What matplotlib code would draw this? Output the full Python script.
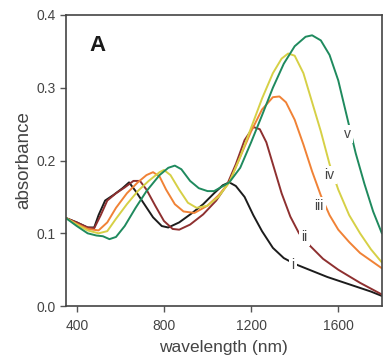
import matplotlib
matplotlib.use("Agg")
import matplotlib.pyplot as plt

plt.rcParams['font.family'] = ['Liberation Sans', 'DejaVu Sans']

# wavelength (nm) / absorbance
wl_i = [350, 400, 450, 480, 500, 530, 570, 610, 640, 670, 710, 750, 790, 820, 870, 930, 980,
        1030, 1070, 1100, 1130, 1170, 1210, 1250, 1300, 1350, 1400, 1450, 1550, 1650, 1750, 1800]
ab_i = [0.121, 0.115, 0.108, 0.108, 0.125, 0.145, 0.153, 0.162, 0.170, 0.158, 0.140, 0.122, 0.110,
        0.108, 0.115, 0.128, 0.140, 0.155, 0.166, 0.170, 0.165, 0.150, 0.125, 0.103, 0.080, 0.066,
        0.058, 0.052, 0.040, 0.030, 0.020, 0.014]

wl_ii = [350, 400, 450, 480, 510, 540, 580, 620, 660, 690, 720, 760, 800, 840, 870, 920, 980,
         1040, 1090, 1130, 1170, 1210, 1240, 1270, 1300, 1340, 1380, 1420, 1470, 1530, 1600, 1700, 1800]
ab_ii = [0.121, 0.115, 0.108, 0.107, 0.125, 0.145, 0.155, 0.163, 0.172, 0.172, 0.160, 0.138, 0.117,
         0.106, 0.105, 0.112, 0.126, 0.145, 0.167, 0.195, 0.228, 0.246, 0.243, 0.225, 0.195, 0.155,
         0.123, 0.100, 0.083, 0.065, 0.050, 0.032, 0.016]

wl_iii = [350, 400, 450, 500, 540, 580, 630, 680, 720, 750, 780, 810, 850, 890, 940, 1000, 1050,
          1100, 1150, 1200, 1250, 1300, 1330, 1360, 1400, 1440, 1480, 1520, 1560, 1600, 1650, 1700, 1800]
ab_iii = [0.121, 0.113, 0.106, 0.104, 0.115, 0.135, 0.155, 0.170, 0.180, 0.184, 0.178, 0.160, 0.140,
          0.130, 0.128, 0.138, 0.152, 0.170, 0.205, 0.240, 0.270, 0.287, 0.288, 0.280, 0.256, 0.222,
          0.185, 0.152, 0.125, 0.105, 0.088, 0.073, 0.052]

wl_iv = [350, 400, 450, 500, 540, 580, 630, 680, 730, 780, 800, 830, 870, 910, 950, 1000, 1050,
         1100, 1150, 1200, 1250, 1300, 1340, 1370, 1400, 1440, 1480, 1520, 1560, 1600, 1650, 1700, 1750, 1800]
ab_iv = [0.121, 0.112, 0.104, 0.100, 0.103, 0.120, 0.140, 0.158, 0.172, 0.184, 0.187, 0.180, 0.160,
         0.142, 0.135, 0.138, 0.150, 0.170, 0.205, 0.245, 0.285, 0.320, 0.340, 0.347, 0.344, 0.320,
         0.280, 0.240, 0.195, 0.160, 0.125, 0.100, 0.078, 0.060]

wl_v = [350, 400, 450, 490, 520, 550, 580, 620, 670, 720, 780, 820, 850, 880, 920, 960, 1000, 1030,
        1060, 1100, 1150, 1200, 1250, 1300, 1350, 1400, 1450, 1480, 1520, 1560, 1600, 1640, 1680,
        1720, 1760, 1800]
ab_v = [0.121, 0.110, 0.100, 0.097, 0.096, 0.092, 0.095, 0.110, 0.135, 0.158, 0.180, 0.190, 0.193,
        0.188, 0.172, 0.162, 0.158, 0.158, 0.163, 0.170, 0.190, 0.225, 0.262, 0.300, 0.333, 0.357,
        0.370, 0.372, 0.365, 0.345, 0.310, 0.260, 0.210, 0.168, 0.130, 0.100]

labels = ["i", "ii", "iii", "iv", "v"]
label_pos_wl = [1392, 1445, 1512, 1560, 1643]
label_pos_ab = [0.056, 0.095, 0.137, 0.180, 0.237]
colors = ["#1c1c1c", "#8e3030", "#f08236", "#d6d046", "#1f8a5e"]

xticks = [400, 800, 1200, 1600]
yticks = [0.0, 0.1, 0.2, 0.3, 0.4]

fig = plt.figure(figsize=(3.83, 3.64), dpi=100)
ax = fig.add_axes([0.172, 0.159, 0.825, 0.800])

series = [(wl_i, ab_i), (wl_ii, ab_ii), (wl_iii, ab_iii), (wl_iv, ab_iv), (wl_v, ab_v)]
for (w, a), c in zip(series, colors):
    ax.plot(w, a, color=c, lw=1.4, solid_capstyle='round', solid_joinstyle='round')

for lab, lx, ly in zip(labels, label_pos_wl, label_pos_ab):
    ax.text(lx, ly, lab, fontsize=10, color='#444444', ha='center', va='center',
            bbox=dict(facecolor='white', edgecolor='none', pad=1.5))

ax.text(0.10, 0.895, "A", transform=ax.transAxes, fontsize=16, fontweight='bold',
        color='#1a1a1a', ha='center', va='center')

ax.set_xlim(350, 1800)
ax.set_ylim(0.0, 0.4)
ax.set_xticks(xticks)
ax.set_yticks(yticks)
ax.set_yticklabels([f"{v:.1f}" for v in yticks])
ax.tick_params(direction='out', length=4, width=1, colors='#555555', labelcolor='#444444',
               labelsize=10)
ax.tick_params(axis='x', pad=5)
for s in ax.spines.values():
    s.set_color('#444444')
    s.set_linewidth(1.2)

ax.set_xlabel("wavelength (nm)", fontsize=12.5, color='#444444', labelpad=5)
ax.set_ylabel("absorbance", fontsize=13.5, color='#444444', labelpad=3)

fig.savefig("out.png", dpi=100)
